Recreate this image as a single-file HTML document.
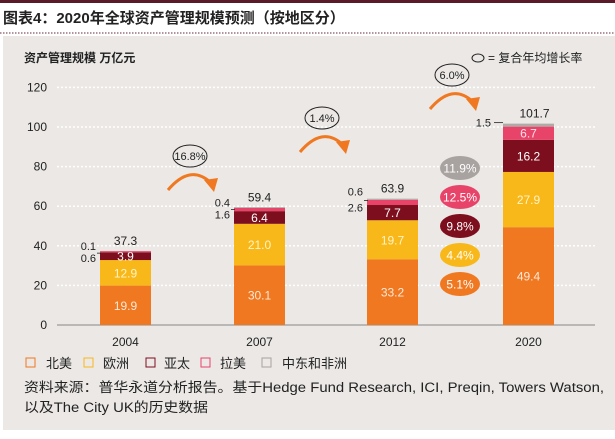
<!DOCTYPE html>
<html><head><meta charset="utf-8"><style>
body{margin:0;background:#fff;}
svg text{font-family:"Liberation Sans","Noto Sans CJK SC",sans-serif;}
</style></head><body>
<svg width="615" height="434" xmlns="http://www.w3.org/2000/svg">
<rect x="0" y="0" width="615" height="3" fill="#5a1a2a"/>
<text x="3" y="23" font-size="15" font-weight="bold" fill="#222">图表4：2020年全球资产管理规模预测（按地区分）</text>
<line x1="0" y1="33" x2="615" y2="33" stroke="#6a2a3a" stroke-dasharray="1.5,1.5"/>
<rect x="3" y="36" width="612" height="394" fill="#ebe8e6"/>
<text x="24" y="62" font-size="12" font-weight="bold" fill="#222">资产管理规模  万亿元</text>
<ellipse cx="478" cy="58" rx="6" ry="4" fill="none" stroke="#222"/>
<text x="488" y="62" font-size="12" fill="#222">= 复合年均增长率</text>
<g id="grid"></g>
<g id="bars"></g>
<g id="ann"></g>
<g>
<rect x="26" y="358" width="9" height="9" fill="none" stroke="#f07820"/>
<text x="46" y="368" font-size="13" fill="#222">北美</text>
<rect x="84" y="358" width="9" height="9" fill="none" stroke="#f8b819"/>
<text x="103" y="368" font-size="13" fill="#222">欧洲</text>
<rect x="146" y="358" width="9" height="9" fill="none" stroke="#7d0e1e"/>
<text x="164" y="368" font-size="13" fill="#222">亚太</text>
<rect x="201" y="358" width="9" height="9" fill="none" stroke="#e8446a"/>
<text x="220" y="368" font-size="13" fill="#222">拉美</text>
<rect x="262" y="358" width="9" height="9" fill="none" stroke="#a8a2a0"/>
<text x="282" y="368" font-size="13" fill="#222">中东和非洲</text>
</g>
<text x="24" y="392" font-size="13.5" fill="#222" textLength="580" lengthAdjust="spacingAndGlyphs">资料来源：普华永道分析报告。基于Hedge Fund Research, ICI, Preqin, Towers Watson,</text>
<text x="24" y="412" font-size="13.5" fill="#222" textLength="184" lengthAdjust="spacingAndGlyphs">以及The City UK的历史数据</text>
</svg>
<script>
const years=["2004","2007","2012","2020"];
const northAmerica=[19.9,30.1,33.2,49.4];
const europe=[12.9,21.0,19.7,27.9];
const asiaPacific=[3.9,6.4,7.7,16.2];
const latinAmerica=[0.6,1.6,2.6,6.7];
const mea=[0.1,0.4,0.6,1.5];
const totals=[37.3,59.4,63.9,101.7];
const yTicks=[0,20,40,60,80,120,100];
const periodCagr=["16.8%","1.4%","6.0%"];
const regionCagr=["11.9%","12.5%","9.8%","4.4%","5.1%"];
const NS="http://www.w3.org/2000/svg";
const y0=325,ppu=1.98;
const y=v=>y0-v*ppu;
const bx=i=>100+[0,134,267,403][i];
const bw=51;
function mk(tag,attrs,parent,text){const e=document.createElementNS(NS,tag);for(const k in attrs)e.setAttribute(k,attrs[k]);if(text!==undefined)e.textContent=text;parent.appendChild(e);return e;}
const grid=document.getElementById('grid'),bars=document.getElementById('bars'),ann=document.getElementById('ann');
yTicks.forEach(t=>{
 if(t>0){const l=mk('line',{x1:57,x2:595,y1:y(t),y2:y(t),stroke:'#fff','stroke-width':1.5,'stroke-dasharray':'2,2'},grid);
 
 }
 const tx=mk('text',{x:47,y:y(t)+4,'font-size':12,'text-anchor':'end',fill:'#222'},grid,String(t));
 
 
});
const ax=mk('line',{x1:57,x2:595,y1:y0,y2:y0,stroke:'#888'},grid);


const series=[[northAmerica,'#f07820','#fde8d8','north-america'],[europe,'#f8b819','#fff3c8','europe'],[asiaPacific,'#7d0e1e','#fff','asia-pacific'],[latinAmerica,'#e8446a','#fde0e8','latin-america'],[mea,'#b0a9a6','#fff','mea']];
years.forEach((yr,i)=>{
 let acc=0;const x=bx(i);
 series.forEach(([arr,col,tc,nm],s)=>{
  const v=arr[i];
  const r=mk('rect',{x:x,y:y(acc+v),width:bw,height:v*ppu,fill:col},bars);
  
  
  if(s<3||(s===3&&i===3)){
   const t=mk('text',{x:x+bw/2,y:y(acc+v/2)+4.5,'font-size':12,'text-anchor':'middle',fill:tc},bars,v.toFixed(1));
   
   
  }
  acc+=v;
 });
 const tt=mk('text',{x:x+bw/2+(i===3?6:0),y:y(totals[i])-6,'font-size':12,'text-anchor':'middle',fill:'#222'},bars,totals[i].toFixed(1));
 
 
 const xl=mk('text',{x:x+bw/2,y:346,'font-size':12,'text-anchor':'middle',fill:'#222'},bars,yr);
 
 
 const top=totals[i];
 if(i<3){
  const lm=mk('text',{x:x-4,y:y(top)-1+(i===2?-2:0),'font-size':11,'text-anchor':'end',fill:'#222'},bars,mea[i].toFixed(1));
  
  
  const ll=mk('text',{x:x-4,y:y(top)+11+(i===2?2:0),'font-size':11,'text-anchor':'end',fill:'#222'},bars,latinAmerica[i].toFixed(1));
  
  
  mk('line',{x1:x-3,x2:x+1,y1:y(top)+2,y2:y(top)+2,stroke:'#222','stroke-width':0.8},bars);
 } else {
  const lm=mk('text',{x:x-12,y:y(top)+3,'font-size':11,'text-anchor':'end',fill:'#222'},bars,mea[i].toFixed(1));
  
  
  mk('line',{x1:x-9,x2:x,y1:y(top)-1,y2:y(top)-1,stroke:'#222','stroke-width':0.8},bars);
 }
});
const bubblePos=[[190,156],[322,118],[452,75]];
periodCagr.forEach((c,i)=>{
 const [cx,cy]=bubblePos[i];
 const e=mk('ellipse',{cx:cx,cy:cy,rx:17,ry:11,fill:'none',stroke:'#222'},ann);
 
 
 const t=mk('text',{x:cx,y:cy+4,'font-size':11,'text-anchor':'middle',fill:'#222'},ann,c);
 
 
 const ax0=cx-22,ay0=cy+34;
 const p=mk('path',{d:`M${ax0} ${ay0} Q${cx} ${cy+8} ${cx+20} ${cy+26}`,fill:'none',stroke:'#f07820','stroke-width':3},ann);
 
 
 mk('polygon',{points:`${cx+14},${cy+24} ${cx+28},${cy+22} ${cx+24},${cy+36}`,fill:'#f07820'},ann);
});
const rcCols=['#a8a2a0','#e8446a','#7d0e1e','#f8b819','#f07820'];
regionCagr.forEach((c,i)=>{
 const cy=168+i*29;
 const e=mk('ellipse',{cx:460,cy:cy,rx:20,ry:12,fill:rcCols[i]},ann);
 
 
 const t=mk('text',{x:460,y:cy+4.5,'font-size':12,'text-anchor':'middle',fill:'#fff'},ann,c);
 
 
});
</script>
</body></html>
